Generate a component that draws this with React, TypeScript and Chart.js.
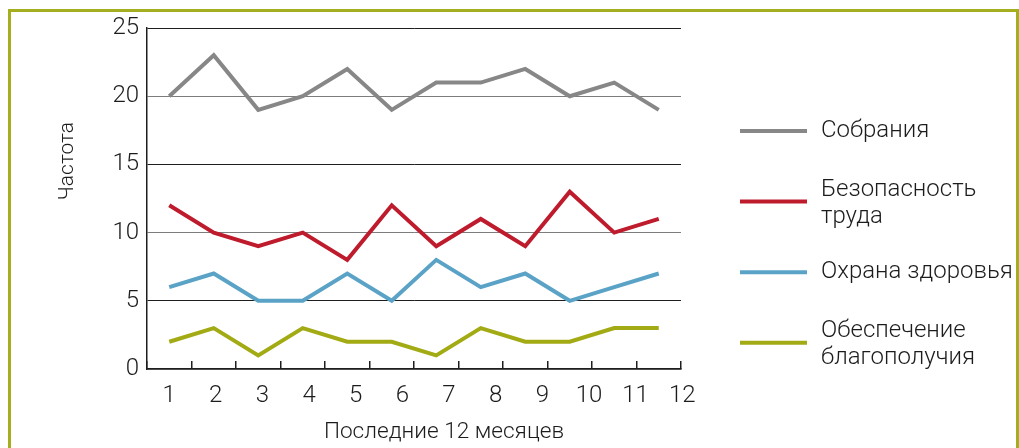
import React, { useEffect, useRef } from 'react';
import { Chart, registerables } from 'chart.js';

Chart.register(...registerables);

// ---- data ----
const months = ['1', '2', '3', '4', '5', '6', '7', '8', '9', '10', '11', '12'];
const monthTickValues = [1, 2, 3, 4, 5, 6, 7, 8, 9, 10, 11, 12];
const yTickValues = [0, 5, 10, 15, 20, 25];

const meetings = [20, 23, 19, 20, 22, 19, 21, 21, 22, 20, 21, 19];
const workSafety = [12, 10, 9, 10, 8, 12, 9, 11, 9, 13, 10, 11];
const healthCare = [6, 7, 5, 5, 7, 5, 8, 6, 7, 5, 6, 7];
const wellbeing = [2, 3, 1, 3, 2, 2, 1, 3, 2, 2, 3, 3];

const seriesNames = ['Собрания', 'Безопасность труда', 'Охрана здоровья', 'Обеспечение благополучия'];
const legendLines = [['Собрания'], ['Безопасность', 'труда'], ['Охрана здоровья'], ['Обеспечение', 'благополучия']];
const seriesColors = ['#878787', '#BE1B2C', '#5AA3C7', '#A2AB14'];

const yAxisTitle = 'Частота';
const xAxisTitle = 'Последние 12 месяцев';

// ---- style ----
const FONT = 'Roboto, "Noto Sans", sans-serif';
const W = 300;
const TEXT = '#1c1c1c';
const AXIS = '#1e1e1e';
const GRID_DARK = '#1e1e1e';
const GRID_LIGHT = '#7d7d7d';
const FRAME = '#A5AE1E';

const decorPlugin = {
  id: 'decor',
  afterDraw(chart: any, _args: any, opts: any) {
    const { ctx, chartArea } = chart;
    const { left, right, top, bottom } = chartArea;
    ctx.save();
    ctx.fillStyle = TEXT;
    ctx.textBaseline = 'alphabetic';

    // y axis title (rotated)
    ctx.save();
    ctx.font = `${W} 21px ${FONT}`;
    ctx.translate(left - 74, (top + bottom) / 2 - 37.5);
    ctx.rotate(-Math.PI / 2);
    ctx.textAlign = 'center';
    ctx.fillText(opts.yTitle, 0, 0);
    ctx.restore();

    // x axis title
    ctx.font = `${W} 22.6px ${FONT}`;
    ctx.textAlign = 'center';
    ctx.fillText(opts.xTitle, (left + right) / 2 + 30, bottom + 69);

    // legend
    const x0 = right + 59;
    const x1 = right + 126;
    const tx = right + 140;
    ctx.font = `${W} 24px ${FONT}`;
    ctx.textAlign = 'left';
    chart.data.datasets.forEach((ds: any, i: number) => {
      const cy = top + 103 + i * 70.6;
      ctx.strokeStyle = ds.borderColor;
      ctx.lineWidth = 4;
      ctx.lineCap = 'butt';
      ctx.beginPath();
      ctx.moveTo(x0, cy);
      ctx.lineTo(x1, cy);
      ctx.stroke();
      const lines: string[] = opts.lines[i];
      const n = lines.length;
      lines.forEach((t, k) => {
        ctx.fillText(t, tx, cy + 5.5 - (n - 1) * 11.5 + k * 27.5);
      });
    });
    ctx.restore();
  },
};

export default function App() {
  const canvasRef = useRef<HTMLCanvasElement | null>(null);

  useEffect(() => {
    if (!canvasRef.current) return;
    const data = [meetings, workSafety, healthCare, wellbeing];
    const chart = new Chart(canvasRef.current, {
      type: 'line',
      data: {
        labels: months,
        datasets: data.map((d, i) => ({
          label: seriesNames[i],
          data: d,
          borderColor: seriesColors[i],
          backgroundColor: seriesColors[i],
          borderWidth: 4,
          pointRadius: 0,
          pointHoverRadius: 0,
          tension: 0,
          fill: false,
          xAxisID: 'x',
          yAxisID: 'y',
        })),
      },
      plugins: [decorPlugin],
      options: {
        animation: false,
        responsive: true,
        maintainAspectRatio: false,
        devicePixelRatio: 1,
        layout: { padding: { left: 0, top: 28, right: 338, bottom: 0 } },
        plugins: {
          legend: { display: false },
          tooltip: { enabled: false },
          title: { display: false },
          decor: { yTitle: yAxisTitle, xTitle: xAxisTitle, lines: legendLines },
        } as any,
        scales: {
          x: {
            type: 'category',
            position: 'bottom',
            weight: 0,
            offset: true,
            grid: {
              display: true,
              offset: true,
              drawOnChartArea: false,
              drawTicks: true,
              tickLength: -8,
              color: AXIS,
              lineWidth: 1.5,
            },
            border: { display: true, color: AXIS, width: 1.5 },
            ticks: { display: false },
            afterFit: (s: any) => {
              s.height = 0;
            },
          },
          xLabels: {
            type: 'linear',
            position: 'bottom',
            weight: 1,
            min: 0.526,
            max: 11.973,
            grid: { display: false, drawTicks: false },
            border: { display: false },
            ticks: {
              font: { family: FONT, size: 24, weight: W },
              color: TEXT,
              padding: 13,
              maxRotation: 0,
              minRotation: 0,
              autoSkip: false,
            },
            afterBuildTicks: (s: any) => {
              s.ticks = monthTickValues.map((v) => ({ value: v }));
            },
            afterFit: (s: any) => {
              s.height = 79;
            },
          },
          y: {
            type: 'linear',
            position: 'left',
            min: 0,
            max: 25,
            ticks: {
              stepSize: 5,
              padding: 8,
              font: { family: FONT, size: 24, weight: W },
              color: TEXT,
            },
            afterBuildTicks: (s: any) => {
              s.ticks = yTickValues.map((v) => ({ value: v }));
            },
            grid: {
              drawTicks: false,
              lineWidth: 1,
              color: (c: any) => ((c.tick && (c.tick.value / 5) % 2 === 0) ? GRID_LIGHT : GRID_DARK),
            },
            border: { display: true, color: AXIS, width: 1.5 },
            afterFit: (s: any) => {
              s.width = 147;
            },
          },
        } as any,
      },
    });
    return () => chart.destroy();
  }, []);

  return (
    <>
      <div style={{ position: 'fixed', left: 0, top: 0, width: 1019, height: 448 }}>
        <canvas ref={canvasRef} />
      </div>
      <div
        style={{
          position: 'fixed',
          left: 8,
          top: 9,
          width: 1011,
          height: 460,
          boxSizing: 'border-box',
          borderTop: `3px solid ${FRAME}`,
          borderLeft: `3px solid ${FRAME}`,
          borderRight: `3px solid ${FRAME}`,
          pointerEvents: 'none',
        }}
      />
    </>
  );
}
